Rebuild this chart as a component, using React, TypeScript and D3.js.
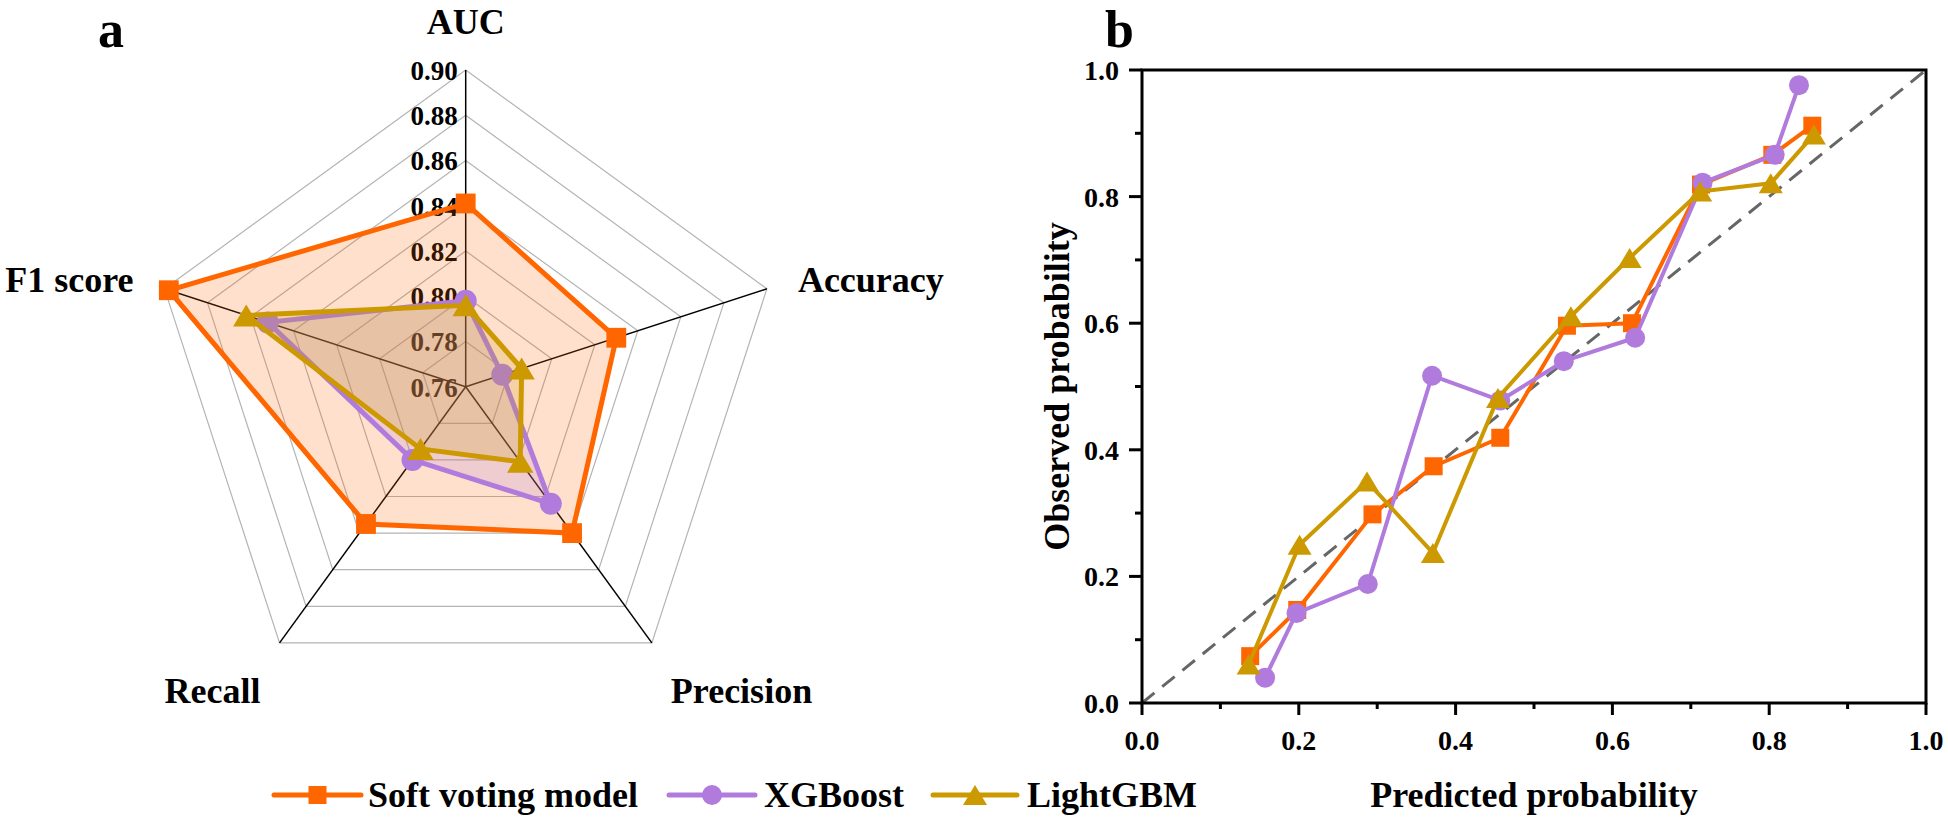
import React from "react";
import * as d3 from "d3";

// radar (panel a)
const radarAxes = ["AUC", "Accuracy", "Precision", "Recall", "F1 score"];
const radarTicks = [0.76, 0.78, 0.8, 0.82, 0.84, 0.86, 0.88, 0.9];
const softVotingRadar = [0.841, 0.83, 0.84, 0.835, 0.898];
const xgboostRadar = [0.798, 0.777, 0.824, 0.8, 0.852];
const lightgbmRadar = [0.796, 0.786, 0.801, 0.794, 0.862];

// calibration curve (panel b)
const softVotingPred = [0.138, 0.198, 0.294, 0.372, 0.457, 0.542, 0.625, 0.713, 0.804, 0.855];
const softVotingObs = [0.074, 0.147, 0.298, 0.374, 0.419, 0.596, 0.6, 0.819, 0.866, 0.912];
const xgboostPred = [0.157, 0.197, 0.288, 0.37, 0.457, 0.538, 0.629, 0.715, 0.807, 0.838];
const xgboostObs = [0.04, 0.142, 0.188, 0.517, 0.478, 0.54, 0.577, 0.822, 0.866, 0.976];
const lightgbmPred = [0.136, 0.201, 0.287, 0.371, 0.454, 0.547, 0.622, 0.712, 0.802, 0.857];
const lightgbmObs = [0.061, 0.25, 0.35, 0.237, 0.482, 0.611, 0.703, 0.808, 0.821, 0.898];
const calTicks = [0, 0.2, 0.4, 0.6, 0.8, 1.0];
const calMinorTicks = [0.1, 0.3, 0.5, 0.7, 0.9];

const seriesNames = ["Soft voting model", "XGBoost", "LightGBM"];

type Marker = "square" | "circle" | "triangle";

interface Series {
  name: string;
  radar: number[];
  pred: number[];
  obs: number[];
  color: string;
  marker: Marker;
}

const series: Series[] = [
  { name: seriesNames[0], radar: softVotingRadar, pred: softVotingPred, obs: softVotingObs, color: "#FF6600", marker: "square" },
  { name: seriesNames[1], radar: xgboostRadar, pred: xgboostPred, obs: xgboostObs, color: "#B07BDC", marker: "circle" },
  { name: seriesNames[2], radar: lightgbmRadar, pred: lightgbmPred, obs: lightgbmObs, color: "#CC9900", marker: "triangle" },
];

const FONT = "'Liberation Serif', 'Times New Roman', serif";

function MarkerShape({ kind, x, y, color, scale = 1 }: { kind: Marker; x: number; y: number; color: string; scale?: number }) {
  if (kind === "square") {
    const s = 18 * scale;
    return <rect x={x - s / 2} y={y - s / 2} width={s} height={s} fill={color} />;
  }
  if (kind === "circle") {
    return <circle cx={x} cy={y} r={10 * scale} fill={color} />;
  }
  const w = 24 * scale;
  const h = 20 * scale;
  return <path d={`M${x},${y - h / 2}L${x + w / 2},${y + h / 2}L${x - w / 2},${y + h / 2}Z`} fill={color} />;
}

function Radar() {
  const cx = 465.7;
  const cy = 386.7;
  const R = 316.7;
  const r = d3.scaleLinear().domain([0.76, 0.9]).range([0, R]);
  const ang = (i: number) => ((-90 + 72 * i) * Math.PI) / 180;
  const pt = (i: number, v: number): [number, number] => [cx + r(v) * Math.cos(ang(i)), cy + r(v) * Math.sin(ang(i))];
  const closed = d3.line<[number, number]>().curve(d3.curveLinearClosed);

  const labelOffsets: [number, number, string][] = [
    [0, -36, "middle"],
    [31, 3.5, "start"],
    [19, 60, "start"],
    [-19, 60, "end"],
    [-31, 3.5, "end"],
  ];

  return (
    <g>
      {/* rings */}
      {radarTicks.slice(1).map((t) => (
        <path key={t} d={closed(radarAxes.map((_, i) => pt(i, t))) || ""} fill="none" stroke="#b4b4b4" strokeWidth={1.2} />
      ))}
      {/* spokes */}
      {radarAxes.map((a, i) => {
        const [x, y] = pt(i, 0.9);
        return <line key={a} x1={cx} y1={cy} x2={x} y2={y} stroke="#000" strokeWidth={1.5} />;
      })}
      {/* radial tick labels */}
      {radarTicks.map((t) => (
        <text key={t} x={cx - 8} y={cy - r(t) + 10} textAnchor="end" fontFamily={FONT} fontWeight="bold" fontSize={27} fill="#000">
          {t.toFixed(2)}
        </text>
      ))}
      {/* axis labels */}
      {radarAxes.map((a, i) => {
        const [x, y] = pt(i, 0.9);
        const [dx, dy, anchor] = labelOffsets[i];
        return (
          <text key={a} x={x + dx} y={y + dy} textAnchor={anchor as any} fontFamily={FONT} fontWeight="bold" fontSize={36} fill="#000">
            {a}
          </text>
        );
      })}
      {/* series */}
      {series.map((s) => {
        const pts = s.radar.map((v, i) => pt(i, v));
        return (
          <g key={s.name}>
            <path d={closed(pts) || ""} fill={s.color} fillOpacity={0.2} stroke={s.color} strokeWidth={5} strokeLinejoin="miter" />
            {pts.map(([x, y], i) => (
              <MarkerShape key={i} kind={s.marker} x={x} y={y} color={s.color} scale={1.1} />
            ))}
          </g>
        );
      })}
    </g>
  );
}

function Calibration() {
  const x = d3.scaleLinear().domain([0, 1]).range([1142, 1926]);
  const y = d3.scaleLinear().domain([0, 1]).range([703, 70]);
  const fmt = d3.format(".1f");
  const line = d3.line<[number, number]>();

  return (
    <g>
      {/* diagonal */}
      <line x1={x(0)} y1={y(0)} x2={x(1)} y2={y(1)} stroke="#666" strokeWidth={3} strokeDasharray="16,10" />
      {series.map((s) => {
        const pts = s.pred.map((p, i) => [x(p), y(s.obs[i])] as [number, number]);
        return (
          <g key={s.name}>
            <path d={line(pts) || ""} fill="none" stroke={s.color} strokeWidth={4} strokeLinejoin="round" />
            {pts.map(([px, py], i) => (
              <MarkerShape key={i} kind={s.marker} x={px} y={py} color={s.color} />
            ))}
          </g>
        );
      })}
      {/* frame */}
      <rect x={x(0)} y={y(1)} width={x(1) - x(0)} height={y(0) - y(1)} fill="none" stroke="#000" strokeWidth={3} />
      {/* x ticks */}
      {calTicks.map((t) => (
        <g key={"x" + t}>
          <line x1={x(t)} x2={x(t)} y1={y(0)} y2={y(0) + 12} stroke="#000" strokeWidth={3} />
          <text x={x(t)} y={y(0) + 47} textAnchor="middle" fontFamily={FONT} fontWeight="bold" fontSize={28}>
            {fmt(t)}
          </text>
        </g>
      ))}
      {calMinorTicks.map((t) => (
        <line key={"xm" + t} x1={x(t)} x2={x(t)} y1={y(0)} y2={y(0) + 6} stroke="#000" strokeWidth={3} />
      ))}
      {/* y ticks */}
      {calTicks.map((t) => (
        <g key={"y" + t}>
          <line x1={x(0) - 13} x2={x(0)} y1={y(t)} y2={y(t)} stroke="#000" strokeWidth={3} />
          <text x={x(0) - 23} y={y(t) + 10} textAnchor="end" fontFamily={FONT} fontWeight="bold" fontSize={28}>
            {fmt(t)}
          </text>
        </g>
      ))}
      {calMinorTicks.map((t) => (
        <line key={"ym" + t} x1={x(0) - 7} x2={x(0)} y1={y(t)} y2={y(t)} stroke="#000" strokeWidth={3} />
      ))}
      <text x={(x(0) + x(1)) / 2} y={807} textAnchor="middle" fontFamily={FONT} fontWeight="bold" fontSize={36}>
        Predicted probability
      </text>
      <text
        transform={`translate(1069,${(y(0) + y(1)) / 2}) rotate(-90)`}
        textAnchor="middle"
        fontFamily={FONT}
        fontWeight="bold"
        fontSize={36}
      >
        Observed probability
      </text>
    </g>
  );
}

function Legend() {
  const items = [
    { x1: 274, x2: 361, tx: 368 },
    { x1: 669, x2: 755, tx: 764 },
    { x1: 933, x2: 1017, tx: 1027 },
  ];
  return (
    <g>
      {series.map((s, i) => {
        const it = items[i];
        return (
          <g key={s.name}>
            <line x1={it.x1} x2={it.x2} y1={795} y2={795} stroke={s.color} strokeWidth={5} strokeLinecap="round" />
            <MarkerShape kind={s.marker} x={(it.x1 + it.x2) / 2} y={795} color={s.color} />
            <text x={it.tx} y={807} fontFamily={FONT} fontWeight="bold" fontSize={36}>
              {s.name}
            </text>
          </g>
        );
      })}
    </g>
  );
}

export default function App() {
  return (
    <svg
      width={1948}
      height={818}
      style={{ position: "absolute", left: 0, top: 0, background: "#fff" }}
    >
      <rect width={1948} height={818} fill="#fff" />
      <text x={98} y={47} fontFamily={FONT} fontWeight="bold" fontSize={52}>
        a
      </text>
      <text x={1105} y={47} fontFamily={FONT} fontWeight="bold" fontSize={52}>
        b
      </text>
      <Radar />
      <Calibration />
      <Legend />
    </svg>
  );
}
